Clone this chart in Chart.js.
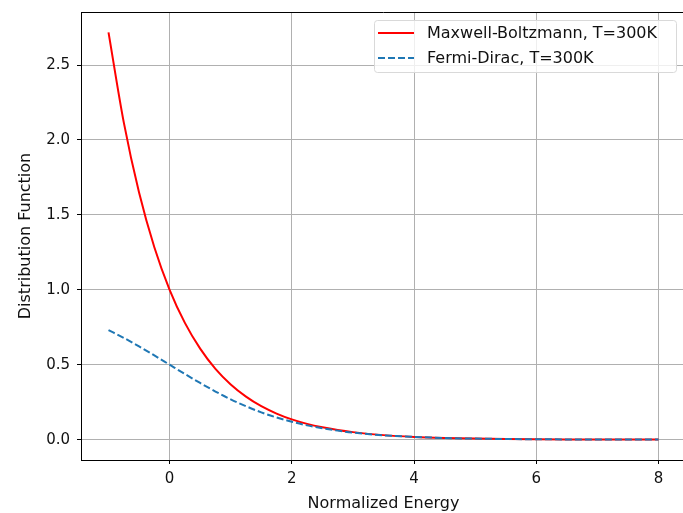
<!DOCTYPE html>
<html lang="en">
<head>
    <meta charset="UTF-8">
    <title>Distribution Function</title>
    <script src="https://cdn.jsdelivr.net/npm/chart.js"></script>
    <style>
        html, body { margin: 0; padding: 0; overflow: hidden; background: #fff; }
        #wrap { width: 683px; height: 513px; overflow: hidden; position: relative; }
        #myChart { position: absolute; left: 0; top: 0; }
    </style>
</head>
<body>
    <div id="wrap"><canvas id="myChart" width="700" height="513"></canvas></div>

    <script>
        // values
        const energy = [-1, -0.75, -0.5, -0.25, 0, 0.25, 0.5, 0.75, 1, 1.25, 1.5, 1.75, 2, 2.25, 2.5, 2.75, 3,
            3.5, 4, 4.5, 5, 5.5, 6, 6.5, 7, 7.5, 8];
        const maxwell = [2.718, 2.117, 1.649, 1.284, 1.0, 0.779, 0.607, 0.472, 0.368, 0.287, 0.223, 0.174, 0.135,
            0.105, 0.082, 0.064, 0.050, 0.030, 0.018, 0.011, 0.0067, 0.0041, 0.0025, 0.0015, 0.0009, 0.00055, 0.00034];
        const fermi = [0.731, 0.679, 0.622, 0.562, 0.5, 0.438, 0.378, 0.321, 0.269, 0.223, 0.182, 0.148, 0.119,
            0.095, 0.076, 0.060, 0.047, 0.029, 0.018, 0.011, 0.0067, 0.0041, 0.0025, 0.0015, 0.0009, 0.00055, 0.00034];
        const xTicks = [0, 2, 4, 6, 8];
        const yTicks = [0.0, 0.5, 1.0, 1.5, 2.0, 2.5];

        const font = "'DejaVu Sans', sans-serif";

        // top spine + legend box in the matplotlib way
        const framePlugin = {
            id: 'frame',
            afterDraw(chart) {
                const ctx = chart.ctx;
                const a = chart.chartArea;
                ctx.save();
                ctx.strokeStyle = '#000';
                ctx.lineWidth = 1;
                ctx.beginPath();
                ctx.moveTo(a.left, a.top + 0.5);
                ctx.lineTo(a.right, a.top + 0.5);
                ctx.stroke();

                // legend
                const x0 = 374, y0 = 20, w = 302, h = 52;
                ctx.fillStyle = 'rgba(255,255,255,0.8)';
                ctx.strokeStyle = '#d9d9d9';
                ctx.beginPath();
                ctx.roundRect(x0 + 0.5, y0 + 0.5, w, h, 3);
                ctx.fill();
                ctx.stroke();
                ctx.font = '16px ' + font;
                ctx.textBaseline = 'middle';
                chart.data.datasets.forEach((ds, i) => {
                    const y = y0 + 13 + i * 25;
                    ctx.strokeStyle = ds.borderColor;
                    ctx.lineWidth = 2;
                    ctx.setLineDash(ds.borderDash || []);
                    ctx.beginPath();
                    ctx.moveTo(x0 + 4, y);
                    ctx.lineTo(x0 + 40, y);
                    ctx.stroke();
                    ctx.setLineDash([]);
                    ctx.fillStyle = '#111';
                    ctx.fillText(ds.label, x0 + 53, y + 1);
                });
                ctx.restore();
            }
        };

        const ctx = document.getElementById('myChart').getContext('2d');
        new Chart(ctx, {
            type: 'line',
            data: {
                datasets: [
                    {
                        label: 'Maxwell-Boltzmann, T=300K',
                        data: energy.map((e, i) => ({ x: e, y: maxwell[i] })),
                        borderColor: '#ff0000',
                        borderWidth: 2,
                        pointRadius: 0,
                        tension: 0.4,
                        cubicInterpolationMode: 'monotone',
                        order: 2
                    },
                    {
                        label: 'Fermi-Dirac, T=300K',
                        data: energy.map((e, i) => ({ x: e, y: fermi[i] })),
                        borderColor: '#1f77b4',
                        borderDash: [7, 3],
                        borderWidth: 2,
                        pointRadius: 0,
                        tension: 0.4,
                        cubicInterpolationMode: 'monotone',
                        order: 1
                    }
                ]
            },
            options: {
                responsive: false,
                animation: false,
                // chart area ends just past the window edge, like the cropped original
                layout: { padding: { left: 0, right: 14, top: 12, bottom: 0 } },
                plugins: {
                    legend: { display: false },
                    tooltip: { enabled: false }
                },
                scales: {
                    x: {
                        type: 'linear',
                        min: -1.45,
                        max: 8.45,
                        afterBuildTicks(scale) { scale.ticks = xTicks.map(v => ({ value: v })); },
                        afterFit(scale) { scale.height = 53; },
                        grid: { color: '#b0b0b0', lineWidth: 1, tickColor: '#000', tickLength: 4 },
                        border: { color: '#000', width: 1 },
                        ticks: { color: '#111', font: { family: font, size: 15 }, padding: 6, maxRotation: 0,
                            callback: v => String(v) },
                        title: { display: true, text: 'Normalized Energy', color: '#111',
                            font: { family: font, size: 16 }, padding: { top: 2, bottom: 0 } }
                    },
                    y: {
                        min: -0.136,
                        max: 2.854,
                        afterBuildTicks(scale) { scale.ticks = yTicks.map(v => ({ value: v })); },
                        afterFit(scale) { scale.width = 81; },
                        grid: { color: '#b0b0b0', lineWidth: 1, tickColor: '#000', tickLength: 4 },
                        border: { color: '#000', width: 1 },
                        ticks: { color: '#111', font: { family: font, size: 15, lineHeight: 0.6 }, padding: 7,
                            callback: v => v.toFixed(1) },
                        title: { display: true, text: 'Distribution Function', color: '#111',
                            font: { family: font, size: 16 }, padding: { top: 16, bottom: 0 } }
                    }
                }
            },
            plugins: [framePlugin]
        });
    </script>
</body>
</html>
